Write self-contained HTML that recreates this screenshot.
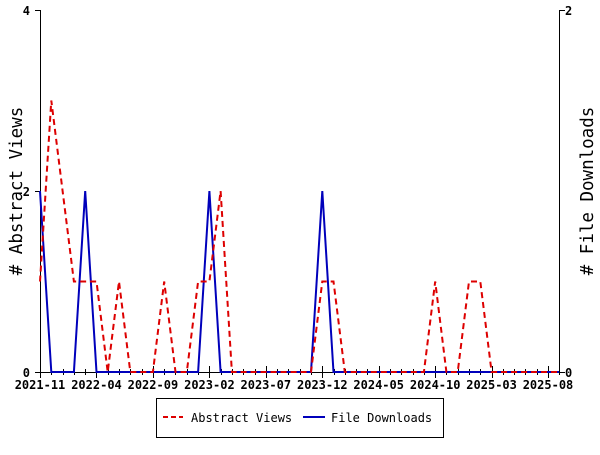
<!DOCTYPE html>
<html><head><meta charset="utf-8"><style>
body{margin:0;background:#fff}
text{font-family:"DejaVu Sans Mono","Liberation Mono",monospace;font-size:12px;font-weight:bold;fill:#000}
</style></head><body>
<svg width="600" height="450" viewBox="0 0 600 450" xmlns="http://www.w3.org/2000/svg">
<rect width="600" height="450" fill="#fff"/>
<g stroke="#000" stroke-width="1">
<line x1="40.5" y1="10" x2="40.5" y2="372"/>
<line x1="559.5" y1="10" x2="559.5" y2="372"/>
<line x1="40" y1="372.5" x2="560" y2="372.5"/>
<line x1="35" y1="10.5" x2="40" y2="10.5"/>
<line x1="35" y1="191.5" x2="40" y2="191.5"/>
<line x1="35" y1="372.5" x2="40" y2="372.5"/>
<line x1="560" y1="10.5" x2="565" y2="10.5"/>
<line x1="560" y1="372.5" x2="565" y2="372.5"/>
</g>
<g stroke="#000" stroke-width="1" id="ticks"></g>
<polyline fill="none" stroke="#0000bb" stroke-width="2" points="40,191 51.3,372 73.9,372 85.2,191 96.5,372 198.1,372 209.4,191 220.6,372 311,372 322.3,191 333.5,372 559,372"/>
<polyline fill="none" stroke="#dd0000" stroke-width="2" stroke-dasharray="6,4" points="40,281.5 51.3,100.5 62.6,191 73.9,281.5 85.2,281.5 96.5,281.5 107.7,372 119,281.5 130.3,372 152.9,372 164.2,281.5 175.5,372 186.8,372 198.1,281.5 209.4,281.5 220.6,191 231.9,372 311,372 322.3,281.5 333.5,281.5 344.8,372 423.9,372 435.2,281.5 446.4,372 457.7,372 469,281.5 480.3,281.5 491.6,372 559,372"/>
<text x="30" y="15" text-anchor="end">4</text>
<text x="30" y="196" text-anchor="end">2</text>
<text x="30" y="377" text-anchor="end">0</text>
<text x="565" y="15">2</text>
<text x="565" y="377">0</text>
<g text-anchor="middle">
<text x="40" y="389">2021-11</text>
<text x="96.5" y="389">2022-04</text>
<text x="152.9" y="389">2022-09</text>
<text x="209.4" y="389">2023-02</text>
<text x="265.8" y="389">2023-07</text>
<text x="322.3" y="389">2023-12</text>
<text x="378.7" y="389">2024-05</text>
<text x="435.2" y="389">2024-10</text>
<text x="491.6" y="389">2025-03</text>
<text x="548" y="389">2025-08</text>
</g>
<text transform="translate(22,191) rotate(-90)" text-anchor="middle" style="font-size:17.5px;font-weight:normal">&#35; Abstract Views</text>
<text transform="translate(593,191) rotate(-90)" text-anchor="middle" style="font-size:17.5px;font-weight:normal">&#35; File Downloads</text>
<rect x="156.5" y="398.5" width="287" height="39" fill="none" stroke="#000"/>
<line x1="163" y1="417" x2="183" y2="417" stroke="#dd0000" stroke-width="2" stroke-dasharray="5,3"/>
<text x="191" y="422" style="font-weight:normal">Abstract Views</text>
<line x1="303" y1="417" x2="325" y2="417" stroke="#0000bb" stroke-width="2"/>
<text x="331" y="422" style="font-weight:normal">File Downloads</text>
</svg>
<script>
var g=document.getElementById('ticks');var s='';
for(var m=0;m<=46;m++){var x=Math.round(40+m*11.29)+0.5;var h=(m%5==0)?6:3;s+='<line x1="'+x+'" y1="'+(372-h)+'" x2="'+x+'" y2="'+(372+h)+'"/>';}
g.innerHTML=s;
</script>
</body></html>
